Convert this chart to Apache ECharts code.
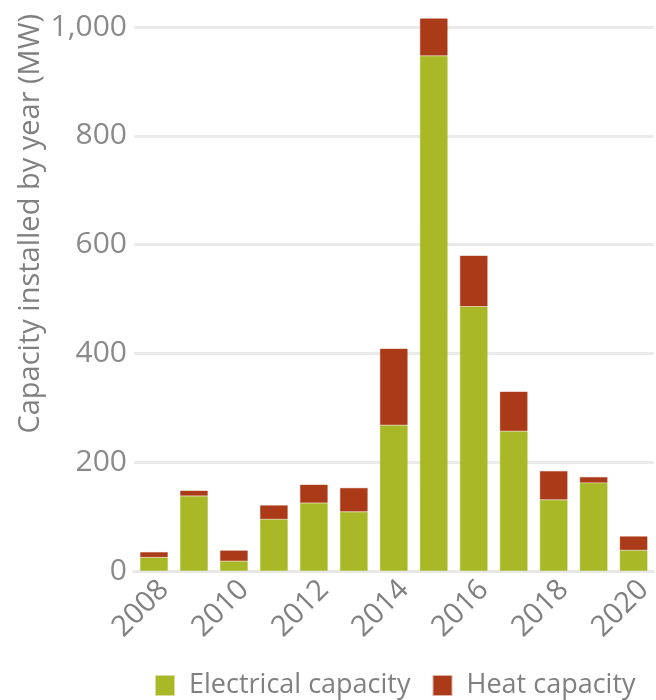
<!DOCTYPE html>
<html>
<head>
<meta charset="utf-8">
<script src="https://cdn.jsdelivr.net/npm/echarts@6/dist/echarts.min.js"></script>
<style>html,body{margin:0;padding:0;background:#fff;}#c{width:656px;height:700px;}</style>
</head>
<body>
<div id="c"></div>
<script>
const years = ['2008','2009','2010','2011','2012','2013','2014','2015','2016','2017','2018','2019','2020'];
const electrical = [25, 138, 18, 95, 125, 109, 268, 947, 486, 257, 131, 162, 38];
const heat = [10, 10, 20, 26, 34, 44, 141, 69, 94, 73, 53, 11, 26];
const yTicks = [0, 200, 400, 600, 800, 1000];
const yTitle = 'Capacity installed by year (MW)';

const chart = echarts.init(document.getElementById('c'));
const font = '"Open Sans", "Noto Sans", sans-serif';
chart.setOption({
  animation: false,
  textStyle: { fontFamily: font },
  grid: { left: 134, right: -4, top: 27, bottom: 129, containLabel: false },
  graphic: [{
    type: 'text',
    rotation: Math.PI / 2,
    originX: 0, originY: 0,
    style: {
      text: yTitle, fontSize: 29, fill: '#808080', fontFamily: font,
      textAlign: 'right', textVerticalAlign: 'top'
    },
    x: 16, y: 14
  }],
  legend: {
    bottom: -4, left: 150,
    itemWidth: 18, itemHeight: 19, itemGap: 22,
    icon: 'rect',
    textStyle: { fontSize: 27, color: '#808080', fontFamily: font, padding: [0, 0, 0, 10] },
    data: ['Electrical capacity', 'Heat capacity']
  },
  xAxis: {
    type: 'category',
    data: years,
    axisTick: { show: false },
    axisLine: { lineStyle: { color: '#e8e8e8', width: 3 } },
    axisLabel: { interval: 1, rotate: 45, fontSize: 29, color: '#808080', margin: 4, verticalAlign: 'top' }
  },
  yAxis: {
    type: 'value',
    min: yTicks[0], max: yTicks[yTicks.length - 1], interval: 200,
    axisLine: { show: false },
    axisTick: { show: false },
    splitLine: { lineStyle: { color: '#ebebeb', width: 3 } },
    axisLabel: {
      fontSize: 30, color: '#8a8a8a', margin: 7,
      formatter: v => v.toLocaleString('en-US')
    }
  },
  series: [
    {
      name: 'Electrical capacity', type: 'bar', stack: 'cap', data: electrical,
      barWidth: 28, clip: false,
      itemStyle: { color: '#a8b826', borderColor: 'rgba(168,184,38,0.45)', borderWidth: 1 }
    },
    {
      name: 'Heat capacity', type: 'bar', stack: 'cap', data: heat,
      barWidth: 28, clip: false,
      itemStyle: { color: '#ab3b18', borderColor: 'rgba(171,59,24,0.4)', borderWidth: 1 }
    }
  ]
});
</script>
</body>
</html>
